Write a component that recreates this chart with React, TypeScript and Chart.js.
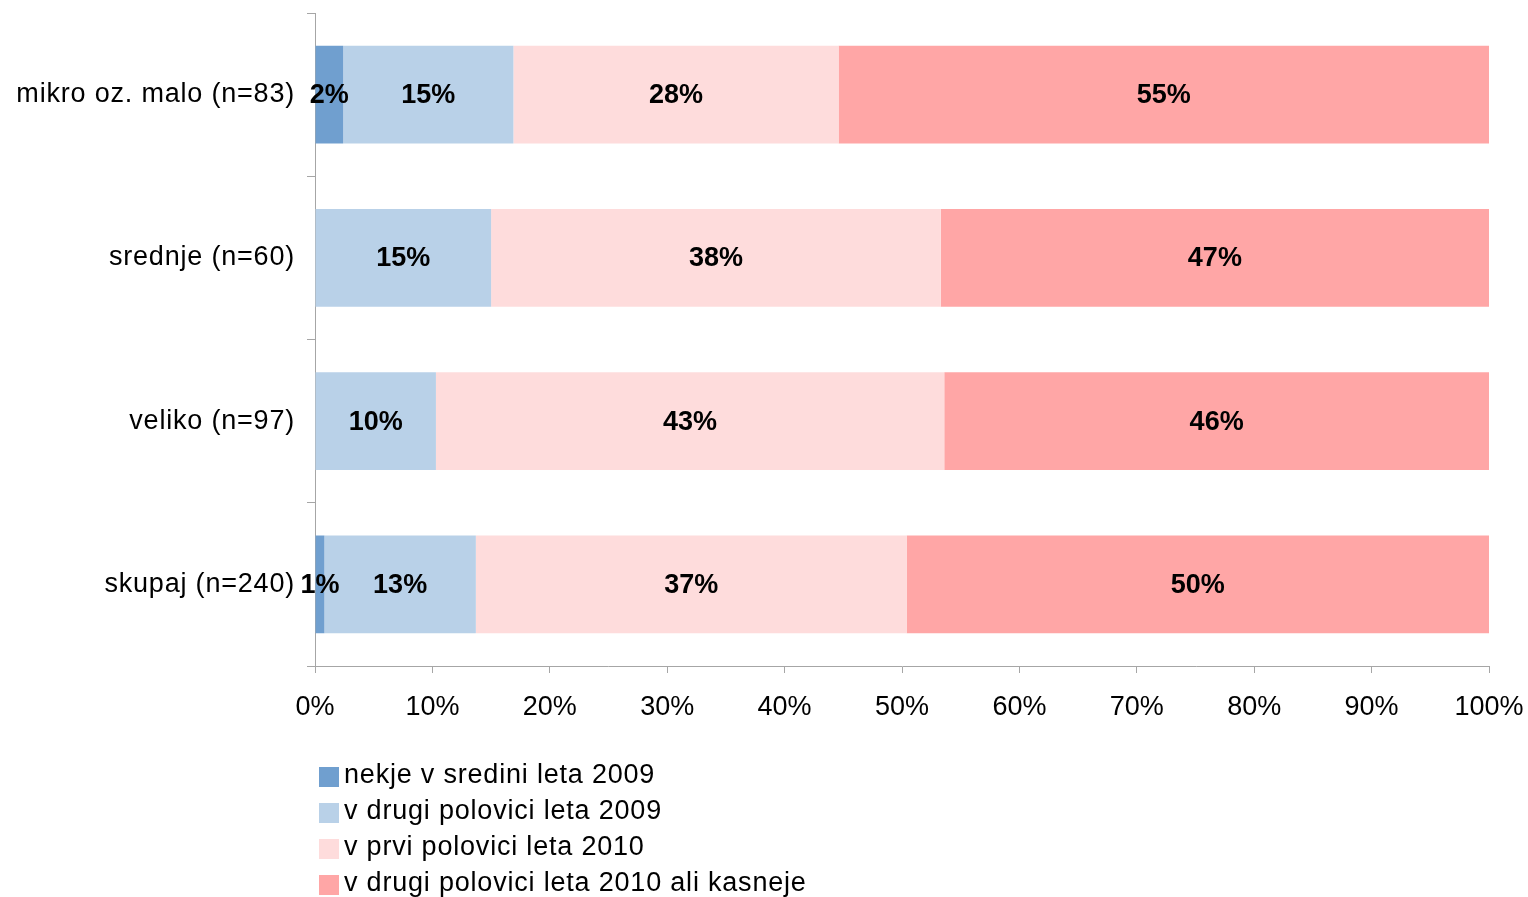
import React, { useEffect, useRef } from "react";
import { Chart, registerables } from "chart.js";

Chart.register(...registerables);

const categories = [
  "mikro oz. malo (n=83)",
  "srednje (n=60)",
  "veliko (n=97)",
  "skupaj (n=240)",
];

const seriesNames = [
  "nekje v sredini leta 2009",
  "v drugi polovici leta 2009",
  "v prvi polovici leta 2010",
  "v drugi polovici leta 2010 ali kasneje",
];

const sredina2009 = [2.4, 0, 0, 0.8];
const drugaPolovica2009 = [14.5, 15.0, 10.3, 12.9];
const prvaPolovica2010 = [27.7, 38.3, 43.3, 36.7];
const drugaPolovica2010 = [55.4, 46.7, 46.4, 49.6];

const seriesColors = ["#709fcf", "#b9d1e8", "#fedcdc", "#ffa6a6"];

const FONT = "'Liberation Sans', Arial, sans-serif";
const AXIS_COLOR = "#a6a6a6";
const LETTER_SPACING = "0.8px";

const dataLabelsPlugin = {
  id: "dataLabels",
  afterDatasetsDraw(chart: any) {
    const ctx = chart.ctx;
    ctx.save();
    ctx.font = `bold 27px ${FONT}`;
    ctx.fillStyle = "#000";
    ctx.textAlign = "center";
    ctx.textBaseline = "middle";
    chart.data.datasets.forEach((ds: any, di: number) => {
      const meta = chart.getDatasetMeta(di);
      meta.data.forEach((el: any, i: number) => {
        const v = ds.data[i];
        if (!v) return;
        const cx = (el.x + el.base) / 2;
        ctx.fillText(Math.round(v) + "%", cx, el.y + 1);
      });
    });
    ctx.restore();
  },
};

const customLegendPlugin = {
  id: "customLegend",
  afterDraw(chart: any) {
    const ctx = chart.ctx;
    const left = chart.chartArea.left + 4;
    const startY = chart.chartArea.bottom + 110;
    const rowH = 36;
    const box = 20;
    ctx.save();
    ctx.font = `27px ${FONT}`;
    (ctx as any).letterSpacing = LETTER_SPACING;
    ctx.textAlign = "left";
    ctx.textBaseline = "middle";
    chart.data.datasets.forEach((ds: any, i: number) => {
      const cy = startY + i * rowH;
      ctx.fillStyle = ds.backgroundColor;
      ctx.fillRect(left, cy - box / 2 + 1, box, box);
      ctx.fillStyle = "#000";
      ctx.fillText(ds.label, left + box + 5, cy);
    });
    ctx.restore();
  },
};

function zeroPadding(s: any) {
  s.paddingTop = 0;
  s.paddingBottom = 0;
  s.paddingLeft = 0;
  s.paddingRight = 0;
}

export default function App() {
  const canvasRef = useRef<HTMLCanvasElement | null>(null);

  useEffect(() => {
    if (!canvasRef.current) return;
    const allSeries = [sredina2009, drugaPolovica2009, prvaPolovica2010, drugaPolovica2010];
    const chart = new Chart(canvasRef.current, {
      type: "bar",
      data: {
        labels: categories,
        datasets: allSeries.map((d, i) => ({
          label: seriesNames[i],
          data: d,
          backgroundColor: seriesColors[i],
          borderWidth: 0,
          barPercentage: 0.6,
          categoryPercentage: 1,
        })),
      },
      options: {
        indexAxis: "y",
        responsive: false,
        animation: false,
        devicePixelRatio: 1,
        layout: { padding: { top: 13, right: 39, bottom: 0, left: 0 } },
        plugins: {
          legend: { display: false },
          tooltip: { enabled: false },
        },
        scales: {
          x: {
            stacked: true,
            min: 0,
            max: 100,
            position: "bottom",
            afterFit: (s: any) => {
              s.height = 231;
              zeroPadding(s);
            },
            grid: {
              drawOnChartArea: false,
              drawTicks: true,
              tickLength: 7,
              color: AXIS_COLOR,
            },
            border: { display: true, color: AXIS_COLOR },
            ticks: {
              stepSize: 10,
              autoSkip: false,
              maxRotation: 0,
              padding: 18,
              color: "#000",
              font: { family: FONT, size: 27 },
              callback: (v: any) => v + "%",
            },
          },
          y: {
            stacked: true,
            afterFit: (s: any) => {
              s.width = 315;
              zeroPadding(s);
              if (!s.__lsPatched) {
                const orig = s.drawLabels.bind(s);
                s.drawLabels = (area: any) => {
                  s.ctx.save();
                  s.ctx.letterSpacing = LETTER_SPACING;
                  orig(area);
                  s.ctx.restore();
                };
                s.__lsPatched = true;
              }
            },
            grid: {
              offset: true,
              drawOnChartArea: false,
              drawTicks: true,
              tickLength: 8,
              color: AXIS_COLOR,
            },
            border: { display: true, color: AXIS_COLOR },
            ticks: {
              padding: 12,
              color: "#000",
              font: { family: FONT, size: 27 },
            },
          },
        },
      } as any,
      plugins: [dataLabelsPlugin, customLegendPlugin],
    });
    return () => chart.destroy();
  }, []);

  return (
    <div
      style={{
        position: "fixed",
        left: 0,
        top: 0,
        width: 1528,
        height: 897,
        overflow: "hidden",
        background: "#fff",
      }}
    >
      <canvas ref={canvasRef} width={1528} height={897} style={{ width: 1528, height: 897 }} />
    </div>
  );
}
